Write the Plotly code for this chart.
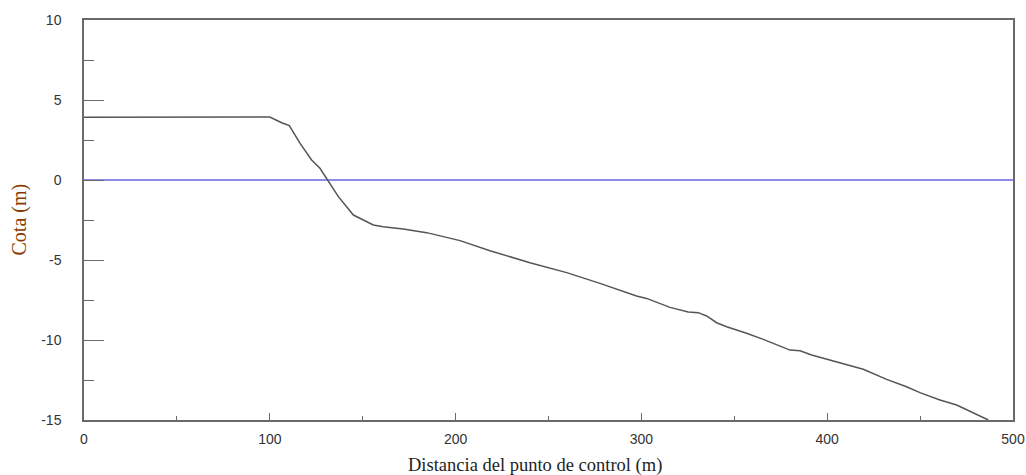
import plotly.graph_objects as go

# Perfil del terreno: distancia (m) y cota (m)
distancia = [0, 100, 106.4, 110.5, 116.3, 122.5, 127, 130.6, 136.9, 145, 155.7, 161,
             171.8, 184.4, 191.6, 202.4, 218.5, 240, 259.8, 277.7, 297.4, 302.8,
             315.4, 325.2, 330.6, 335.1, 340.5, 345.9, 356.6, 365.6, 380, 385.4,
             391.6, 401.5, 406.9, 419.4, 432, 442.7, 449.9, 460.7, 469.7, 476.9, 486.7]
cota = [3.92, 3.94, 3.58, 3.4, 2.29, 1.25, 0.73, 0.06, -1.04, -2.19, -2.81, -2.92,
        -3.06, -3.29, -3.48, -3.79, -4.42, -5.17, -5.79, -6.46, -7.25, -7.4,
        -7.96, -8.25, -8.29, -8.5, -8.92, -9.17, -9.58, -9.96, -10.63, -10.67,
        -10.94, -11.25, -11.42, -11.83, -12.46, -12.92, -13.29, -13.75, -14.06, -14.48, -15.0]

# Nivel de referencia
nivel_x = [0, 500]
nivel_y = [0, 0]

x_ticks = [0, 100, 200, 300, 400, 500]
x_labels = ["0", "100", "200", "300", "400", "500"]
y_ticks = [10, 5, 0, -5, -10, -15]
y_labels = ["10", "5", "0", "-5", "-10", "-15"]

fig = go.Figure()
fig.add_trace(go.Scatter(x=nivel_x, y=nivel_y, mode="lines",
                         line=dict(color="#1c1cd0", width=1.2), hoverinfo="skip"))
fig.add_trace(go.Scatter(x=distancia, y=cota, mode="lines",
                         line=dict(color="#555555", width=1.5)))

axis_col = "#6a6a6a"
serif = "Liberation Serif, Times New Roman"
fig.update_layout(
    width=1026, height=475,
    margin=dict(l=84, r=13, t=20, b=55),
    paper_bgcolor="white", plot_bgcolor="white",
    showlegend=False,
    font=dict(family="Liberation Sans, Arial", size=14, color="#333333"),
    xaxis=dict(
        range=[0, 500], tickvals=x_ticks, ticktext=x_labels, ticks="inside", ticklen=7,
        tickwidth=1, tickcolor=axis_col, showline=True, linecolor=axis_col, linewidth=1.5,
        mirror=True, showgrid=False, zeroline=False, ticklabelstandoff=5, automargin=False,
        minor=dict(dtick=50, ticks="inside", ticklen=4, tickcolor=axis_col, showgrid=False),
    ),
    yaxis=dict(
        range=[-15, 10], tickvals=y_ticks, ticktext=y_labels, ticks="inside", ticklen=20,
        tickwidth=1, tickcolor=axis_col, showline=True, linecolor=axis_col, linewidth=1.5,
        mirror=True, showgrid=False, zeroline=False, ticklabelstandoff=18, automargin=False,
        minor=dict(dtick=2.5, ticks="inside", ticklen=10, tickcolor=axis_col, showgrid=False),
    ),
    annotations=[
        dict(text="Distancia del punto de control (m)", xref="paper", yref="paper",
             x=0.4855, y=-0.1125, xanchor="center", yanchor="middle", showarrow=False,
             font=dict(family=serif, size=18.5, color="#1e1e1e")),
        dict(text="Cota (m)", xref="paper", yref="paper", textangle=-90,
             x=-0.069, y=0.501, xanchor="center", yanchor="middle", showarrow=False,
             font=dict(family=serif, size=20, color="#8a3a00")),
    ],
)

fig.write_html("out.html")
